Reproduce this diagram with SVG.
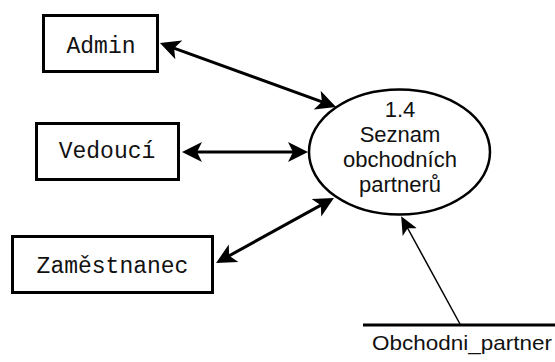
<svg xmlns="http://www.w3.org/2000/svg" width="555" height="362" viewBox="0 0 555 362">
  <style>
    .box { fill: #fff; stroke: #000; stroke-width: 3; }
    .ent { font-family: "Liberation Mono", "Courier New", monospace; font-size: 23px; fill: #111; text-anchor: middle; }
    .proc { font-family: "Liberation Sans", Arial, sans-serif; font-size: 22px; fill: #111; text-anchor: middle; }
    .flow { stroke: #000; stroke-width: 3; fill: none; }
    .thin { stroke: #000; stroke-width: 1.5; fill: none; }
  </style>
  <defs>
    <marker id="ah" viewBox="0 0 20 22" markerWidth="20" markerHeight="22" refX="14" refY="11" orient="auto-start-reverse" markerUnits="userSpaceOnUse">
      <path d="M20,11 L0,1 L5,11 L0,21 Z" fill="#000"/>
    </marker>
    <marker id="ahs" viewBox="0 0 20 20" markerWidth="18" markerHeight="18" refX="16" refY="10" orient="auto" markerUnits="userSpaceOnUse">
      <path d="M20,10 L0,1 L5,10 L0,19 Z" fill="#000"/>
    </marker>
  </defs>

  <g id="connectors">
    <line class="flow" x1="165.6" y1="45.1" x2="330.4" y2="104.9" marker-start="url(#ah)" marker-end="url(#ah)"/>
    <line class="flow" x1="188" y1="152" x2="302" y2="152" marker-start="url(#ah)" marker-end="url(#ah)"/>
    <line class="flow" x1="221.3" y1="260.1" x2="328.7" y2="200.9" marker-start="url(#ah)" marker-end="url(#ah)"/>
    <line class="thin" x1="460" y1="324" x2="402.9" y2="219.5" marker-end="url(#ahs)"/>
  </g>

  <g id="admin">
    <rect class="box" x="43.5" y="15.5" width="114" height="56"/>
    <text class="ent" x="101" y="53">Admin</text>
  </g>
  <g id="vedouci">
    <rect class="box" x="36.5" y="123.5" width="142" height="56"/>
    <text class="ent" x="107" y="158">Vedoucí</text>
  </g>
  <g id="zamestnanec">
    <rect class="box" x="12.5" y="236.5" width="200" height="56"/>
    <text class="ent" x="112.5" y="273">Zaměstnanec</text>
  </g>

  <g id="process">
    <ellipse cx="399.5" cy="152" rx="90.5" ry="62.5" fill="#fff" stroke="#000" stroke-width="2.5"/>
    <text class="proc" x="400" y="117">1.4</text>
    <text class="proc" x="400" y="142">Seznam</text>
    <text class="proc" x="400" y="167">obchodních</text>
    <text class="proc" x="400" y="192">partnerů</text>
  </g>

  <g id="store">
    <line x1="363" y1="325" x2="555" y2="325" stroke="#000" stroke-width="3"/>
    <text x="372" y="350" font-family="'Liberation Sans', Arial, sans-serif" font-size="21" fill="#111" textLength="180" lengthAdjust="spacingAndGlyphs">Obchodni_partner</text>
  </g>
</svg>
